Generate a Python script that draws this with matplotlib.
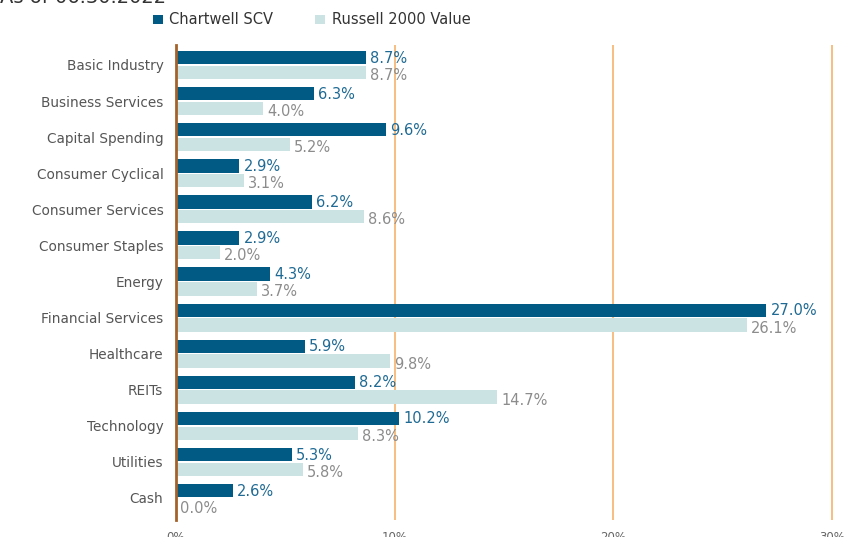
import matplotlib
matplotlib.use("Agg")
import matplotlib.pyplot as plt
import numpy as np
from matplotlib.patches import Patch

categories = ["Basic Industry", "Business Services", "Capital Spending", "Consumer Cyclical",
              "Consumer Services", "Consumer Staples", "Energy", "Financial Services",
              "Healthcare", "REITs", "Technology", "Utilities", "Cash"]
chartwell = [8.7, 6.3, 9.6, 2.9, 6.2, 2.9, 4.3, 27.0, 5.9, 8.2, 10.2, 5.3, 2.6]
russell = [8.7, 4.0, 5.2, 3.1, 8.6, 2.0, 3.7, 26.1, 9.8, 14.7, 8.3, 5.8, 0.0]
xticks = [0, 10, 20, 30]
xtick_labels = ["0%", "10%", "20%", "30%"]
series_names = ["Chartwell SCV", "Russell 2000 Value"]

plt.rcParams['font.family'] = ['DejaVu Sans']

W, H = 845, 537
fig = plt.figure(figsize=(W / 100, H / 100), dpi=100)
left = 176 / W
bottom = 1 - 520 / H
top = 1 - 45 / H
ax = fig.add_axes([left, bottom, 1 - left, top - bottom])

dark = "#015a84"
light = "#cce3e4"
grid_c = "#f6b36b"

y = np.arange(len(categories))
bh = 0.37
ax.barh(y - 0.205, chartwell, height=bh, color=dark, zorder=3, label=series_names[0])
ax.barh(y + 0.205, russell, height=bh, color=light, zorder=3, label=series_names[1])

for yi, v in zip(y, chartwell):
    ax.annotate(f"{v:.1f}%", (v, yi - 0.19), xytext=(3, 0), textcoords="offset points",
                va="center", ha="left", color="#1f6a94", fontsize=10.5, zorder=4)
for yi, v in zip(y, russell):
    ax.annotate(f"{v:.1f}%", (v, yi + 0.29), xytext=(3, 0), textcoords="offset points",
                va="center", ha="left", color="#8c8c8c", fontsize=10.5, zorder=4)

ax.set_xlim(0, 30.59)
ax.set_ylim(12.61, -0.554)
ax.set_yticks(y)
ax.set_yticklabels(categories, fontsize=9.8, color="#555555")
ax.set_xticks(xticks)
ax.set_xticklabels(xtick_labels, fontsize=8.5, color="#666666")
ax.tick_params(axis="both", length=0)
ax.tick_params(axis="x", pad=8)
ax.tick_params(axis="y", pad=9)
for t in ax.get_xticklabels():
    t.set_clip_on(False)
for s in ["top", "right", "bottom"]:
    ax.spines[s].set_visible(False)
ax.spines["left"].set_color("#a4622a")
ax.spines["left"].set_linewidth(2)
ax.spines["left"].set_zorder(5)
for xv in xticks[1:]:
    ax.axvline(xv, color=grid_c, lw=1.2, zorder=1)

handles = [Patch(facecolor=dark), Patch(facecolor=light)]
fig.legend(handles, series_names, loc="center left", bbox_to_anchor=(140 / W, 1 - 20 / H),
           ncol=2, frameon=False, fontsize=10.5, handlelength=0.65, handleheight=0.65,
           handletextpad=0.45, columnspacing=2.9, labelcolor="#333333")

fig.text(0.0, 1 - 7 / H, "As of 06.30.2022", fontsize=14, color="#333333", va="bottom", ha="left")

fig.savefig("out.png", dpi=100)
